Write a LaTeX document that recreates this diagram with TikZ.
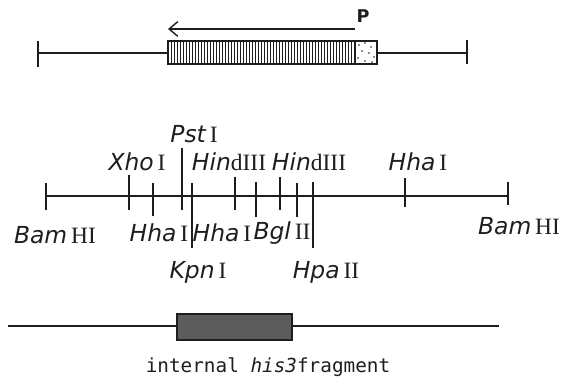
\documentclass[tikz,border=0pt]{standalone}
\usepackage{fontspec}
\setmainfont{Liberation Serif}
\setsansfont{DejaVu Sans}
\newfontfamily\plotmono{DejaVu Sans Mono}
\usetikzlibrary{arrows.meta}
\definecolor{inkgray}{HTML}{1E1E1E}
\definecolor{fraggray}{HTML}{5C5C5C}
\newcommand{\enz}[2]{{\sffamily\itshape #1}\,{\rmfamily #2}}
\tikzset{
  dna/.style={draw=inkgray, line width=1.5pt},
  tick/.style={draw=inkgray, line width=1.5pt},
  hatch/.style={draw=inkgray, line width=0.6pt},
  tx/.style={draw=inkgray, line width=1.2pt, -{Straight Barb[length=2.6mm,width=4.4mm]}},
  lab/.style={inner sep=0pt, text=inkgray, font=\fontsize{20}{22}\selectfont},
  captext/.style={inner sep=0pt, text=inkgray, font=\plotmono\fontsize{16.5}{18}\selectfont}
}
\begin{document}
\begin{tikzpicture}[x=0.03cm,y=-0.03cm]
  \path[use as bounding box] (0,0) rectangle (567,377);

  % top: gene with promoter
  \coordinate (topL) at (38,53);
  \coordinate (topR) at (467,53);
  \coordinate (boxL) at (168,53);
  \coordinate (boxR) at (377,53);
  \draw[dna] (topL) -- (boxL);
  \draw[dna] (boxR) -- (topR);
  \draw[tick] (38,41) -- (38,67);
  \draw[tick] (467,40) -- (467,64);
  \foreach \x in {171,174,...,353}
    \draw[hatch] (\x,41) -- (\x,64);
  \foreach \x/\y in {359/45, 365/43, 371/47, 362/51, 369/53, 374/57, 358/58, 365/61, 372/62}
    \fill[inkgray] (\x,\y) circle (0.7pt);
  \draw[dna] (168,41) rectangle (377,64);
  \draw[dna] (355,41) -- (355,64);
  \coordinate (pstart) at (355,29);
  \coordinate (pend) at (168,29);
  \draw[tx] (pstart) -- (pend);
  \node[inner sep=0pt, text=inkgray, font=\sffamily\bfseries\fontsize{15}{17}\selectfont] (prom) at (363,16) {P};

  % restriction map
  \coordinate (mapL) at (46,196);
  \coordinate (mapR) at (508,196);
  \draw[dna] (mapL) -- (mapR);
  \foreach \x/\ya/\yb in {46/183/210, 508/182/205, 129/175/210, 153/183/216,
      182/148/210, 192/183/248, 235/177/210, 256/182/217, 280/177/210,
      297/183/217, 313/182/248, 405/178/207}
    \draw[tick] (\x,\ya) -- (\x,\yb);

  \node[lab] (pst) at (194,134) {\enz{Pst}{I}};
  \node[lab] (xho) at (137,162) {\enz{Xho}{I}};
  \node[lab] (hind1) at (229,162) {{\sffamily\itshape Hin}{\rmfamily dIII}};
  \node[lab] (hind2) at (309,162) {{\sffamily\itshape Hin}{\rmfamily dIII}};
  \node[lab] (hha3) at (418,162) {\enz{Hha}{I}};
  \node[lab] (bamL) at (55,235) {\enz{Bam}{HI}};
  \node[lab] (hha1) at (159,233) {\enz{Hha}{I}};
  \node[lab] (hha2) at (222,233) {\enz{Hha}{I}};
  \node[lab] (bgl) at (282,233) {\enz{Bgl}{II}};
  \node[lab] (bamR) at (519,226) {\enz{Bam}{HI}};
  \node[lab] (kpn) at (198,272) {\enz{Kpn}{I}};
  \node[lab] (hpa) at (326,272) {\enz{Hpa}{II}};

  % internal fragment
  \coordinate (fragL) at (8,326);
  \coordinate (fragR) at (499,326);
  \draw[dna] (fragL) -- (177,326);
  \draw[dna] (292,326) -- (fragR);
  \draw[dna, fill=fraggray] (177,314) rectangle (292,340);
  \node[captext] (fraglab) at (268,367) {internal \textit{his3}fragment};
\end{tikzpicture}
\end{document}
